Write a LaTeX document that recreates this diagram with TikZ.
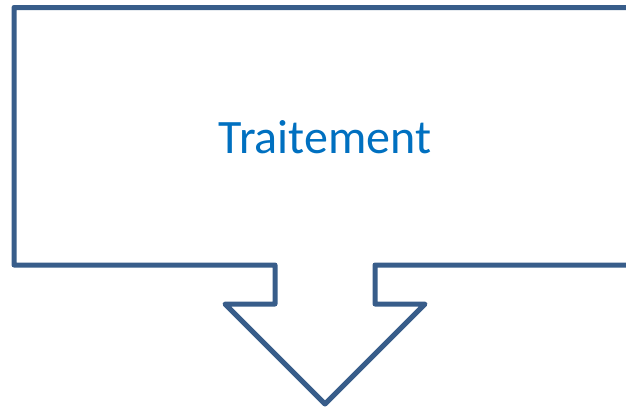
\documentclass[tikz,border=0pt]{standalone}
\usepackage{fontspec}
\setmainfont{Carlito}
\usetikzlibrary{positioning}
\definecolor{calloutline}{RGB}{56,93,138}
\definecolor{callouttext}{RGB}{0,112,192}

\begin{document}
\begin{tikzpicture}
  [x=1bp, y=-1bp,
  callout/.style={draw=calloutline,line width=5bp,line join=round},
  title/.style={text=callouttext,font=\fontsize{48bp}{56bp}\selectfont,inner sep=0pt}]
  \useasboundingbox (0,0) rectangle (626,408);
  \clip (0,0) rectangle (626,408);

  % box with the arrow pointing down
  \draw [callout] (14,7.5) -- (640,7.5) -- (640,265) -- (375,265) -- (375,304)
    -- (425,304) -- (325,404) -- (225,304) -- (275,304) -- (275,265)
    -- (14,265) -- cycle;

  \node[title] (traitement) at (325,137) {Traitement};
\end{tikzpicture}
\end{document}
